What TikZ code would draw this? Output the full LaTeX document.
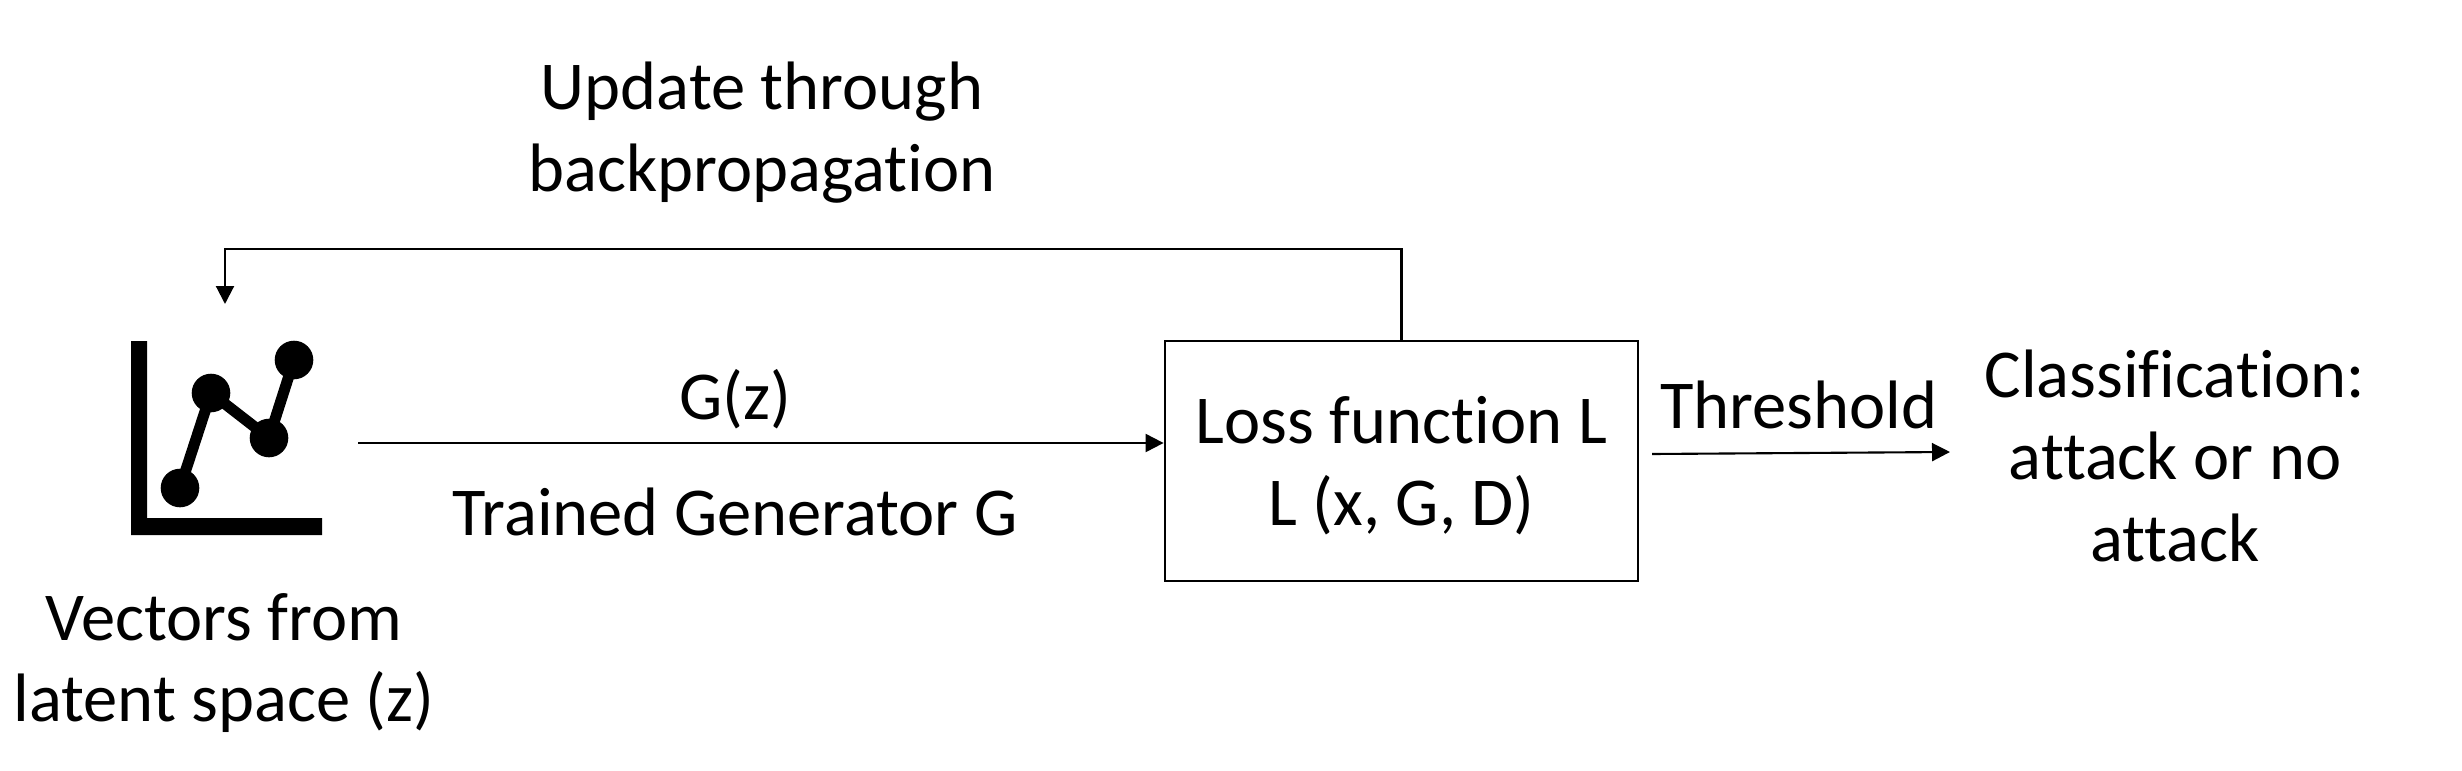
\documentclass[tikz,border=0pt]{standalone}
\usepackage{fontspec}
\setmainfont[Ligatures=CommonOff]{Carlito}
\usetikzlibrary{arrows.meta}
\tikzset{
	label/.style={align=center, inner sep=0pt, font=\fontsize{19.5}{23.3}\selectfont},
	flecha/.style={-{Triangle[length=0.18cm,width=0.18cm]}, line width=0.6pt},
	icono/.style={line width=0.11cm}
}
\begin{document}
\begin{tikzpicture}
	\useasboundingbox (0,0) rectangle (24.62,7.7);
	
	% Icon: axes
		\fill (1.31,4.29) -- (1.47,4.29) -- (1.47,2.52) -- (3.22,2.52) -- (3.22,2.35) -- (1.31,2.35) -- cycle;
	% Icon: curve and points
		\draw [icono] (1.80,2.82) -- (2.11,3.77) -- (2.69,3.32) -- (2.94,4.10);
		\fill (1.80,2.82) circle[radius=0.193];
		\fill (2.11,3.77) circle[radius=0.193];
		\fill (2.69,3.32) circle[radius=0.193];
		\fill (2.94,4.10) circle[radius=0.193];
	
	% Boxes and labels
		\node [draw, line width=0.8pt, minimum width=4.73cm, minimum height=2.40cm] (lossbox) at (14.015,3.09) {};
		\node [label] (losstxt) at (14.015,3.04) {Loss function L\\L (x, G, D)};
		\node [label] (updatetxt) at (7.62,6.37) {Update through\\backpropagation};
		\node [label] (gztxt) at (7.35,3.71) {G(z)};
		\node [label] (trainedtxt) at (7.35,2.58) {Trained Generator G};
		\node [label] (threshtxt) at (17.99,3.65) {Threshold};
		\node [label] (classtxt) at (21.75,3.14) {Classification:\\attack or no\\attack};
		\node [label] (vectorstxt) at (2.24,1.07) {Vectors from\\latent space (z)};
	
	% Free ends
		\coordinate (gzstart) at (3.58,3.27);
		\coordinate (threshstart) at (16.52,3.16);
		\coordinate (threshend) at (19.50,3.18);
		\coordinate (fbtip) at (2.25,4.66);
		\coordinate (fbtop) at (2.25,5.21);
	
	% Arrows
		\draw [flecha] (gzstart) -- (gzstart -| lossbox.west);
		\draw [flecha] (threshstart) -- (threshend);
		\draw [flecha] (lossbox.north) |- (fbtop) -- (fbtip);
\end{tikzpicture}
\end{document}
